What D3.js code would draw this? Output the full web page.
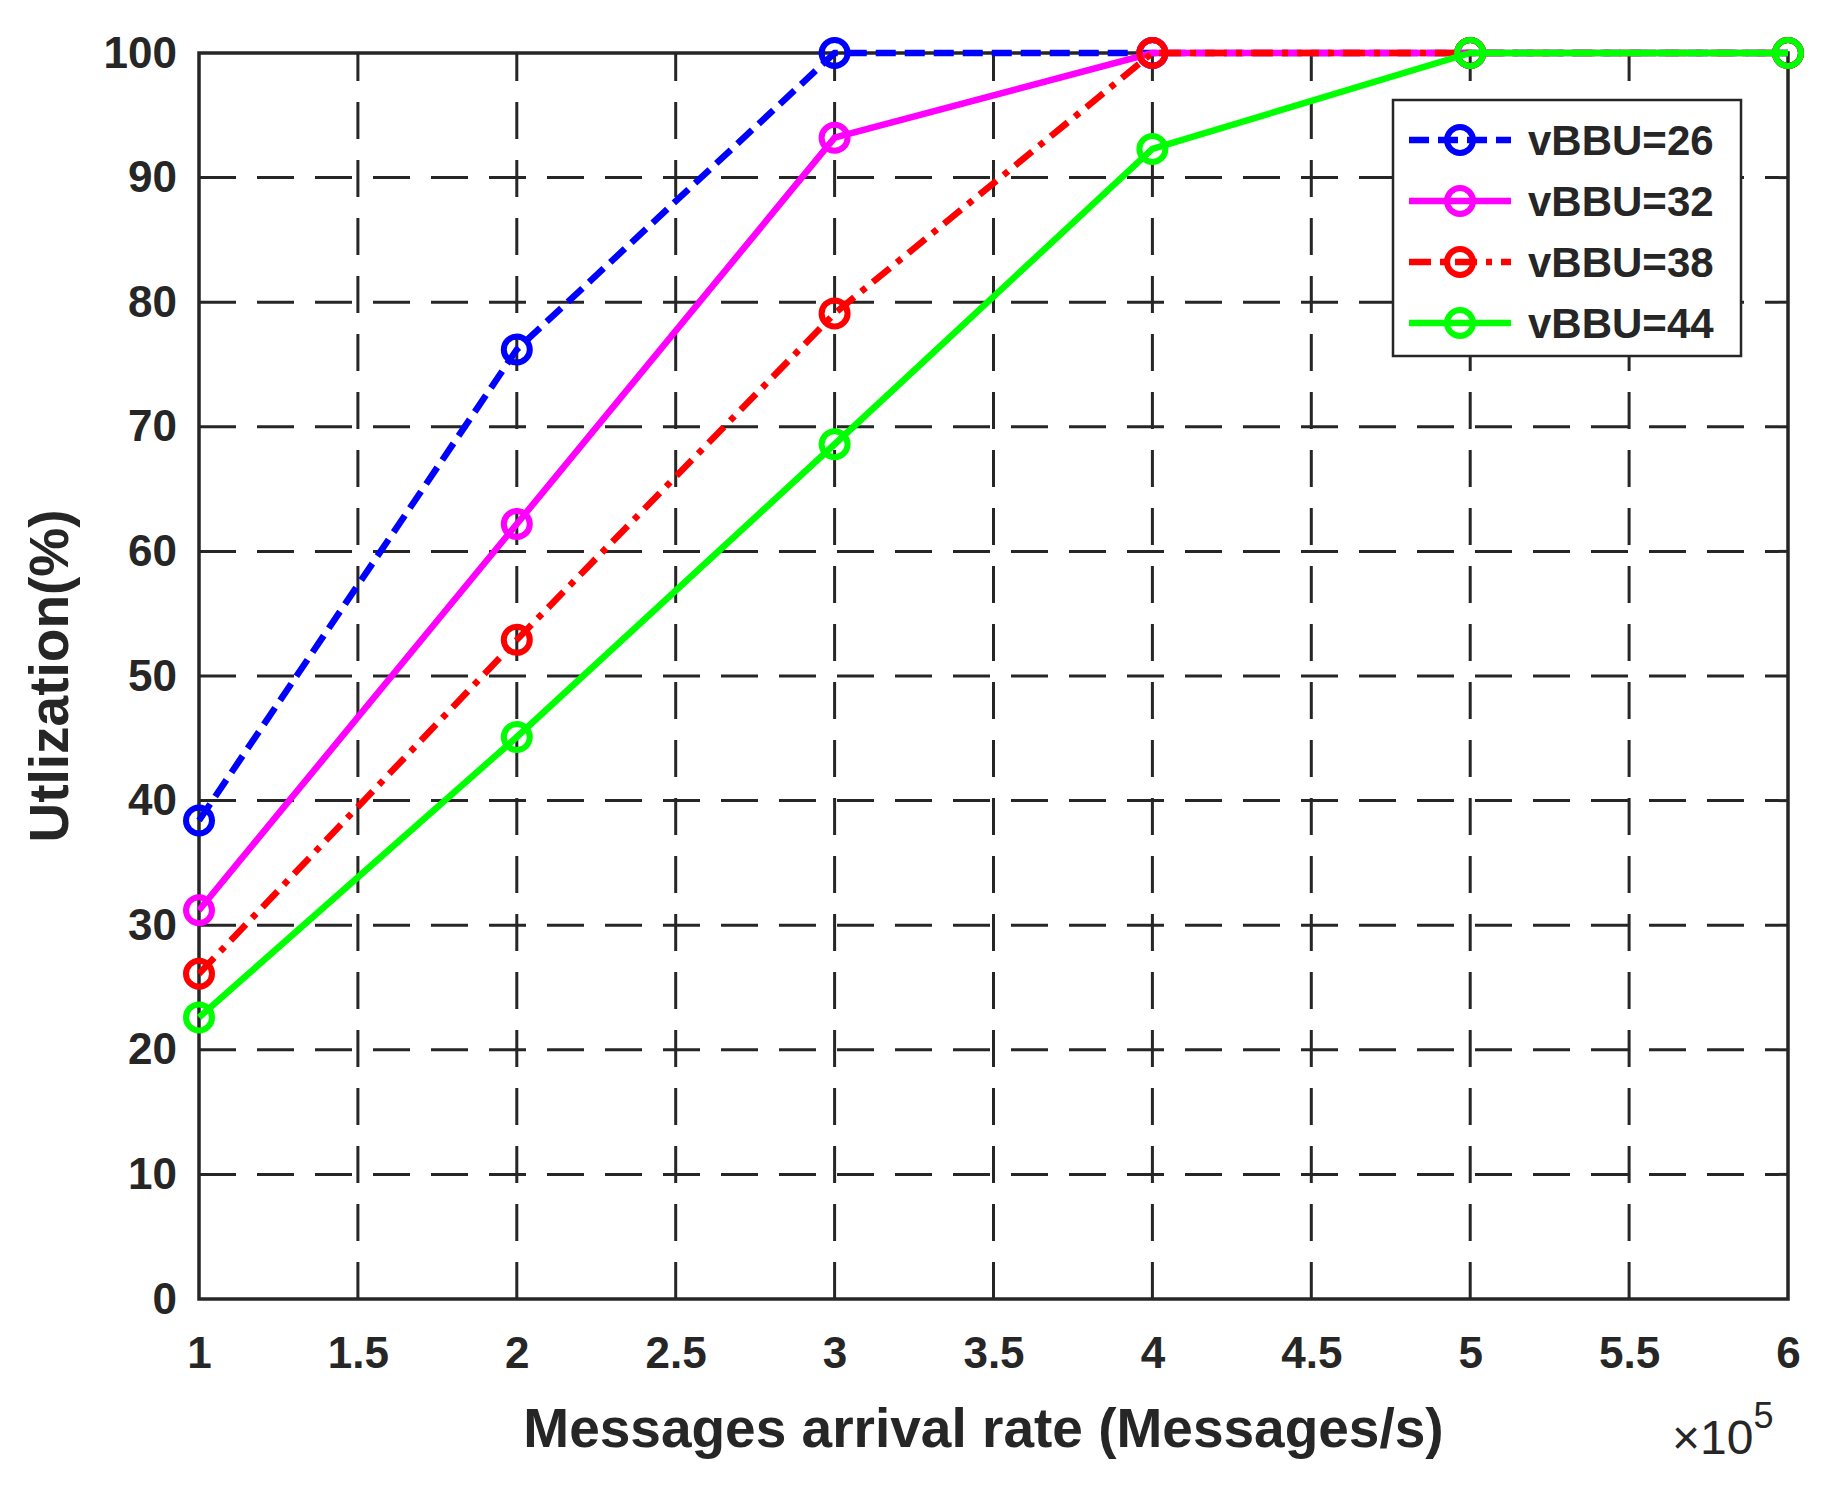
<!DOCTYPE html>
<html><head><meta charset="utf-8">
<script src="https://cdn.jsdelivr.net/npm/d3@7"></script>
<style>body{margin:0;background:#fff}svg text{font-family:"Liberation Sans",Arial,sans-serif;font-weight:bold;fill:#262626}</style>
</head><body>
<svg id="chart" width="1823" height="1487"></svg>
<script>
const xValues = [1, 2, 3, 4, 5, 6];
const xTicks = [1, 1.5, 2, 2.5, 3, 3.5, 4, 4.5, 5, 5.5, 6];
const yTicks = [0, 10, 20, 30, 40, 50, 60, 70, 80, 90, 100];
const seriesNames = ["vBBU=26", "vBBU=32", "vBBU=38", "vBBU=44"];
const vbbu26 = [38.4, 76.2, 100, 100, 100, 100];
const vbbu32 = [31.2, 62.2, 93.2, 100, 100, 100];
const vbbu38 = [26.1, 52.9, 79.1, 100, 100, 100];
const vbbu44 = [22.6, 45.1, 68.6, 92.3, 100, 100];
const colors = ["#0000ff", "#ff00ff", "#ff0000", "#00ff00"];
const dashes = ["20,9", null, "22,9,6,9", null];
const allSeries = [vbbu26, vbbu32, vbbu38, vbbu44];

const margin = { top: 53, right: 35, bottom: 188, left: 199 };
const width = 1823, height = 1487;
const svg = d3.select("#chart");

const x = d3.scaleLinear().domain([1, 6]).range([margin.left, width - margin.right]);
const y = d3.scaleLinear().domain([0, 100]).range([height - margin.bottom, margin.top]);

// grid
const grid = svg.append("g").attr("stroke", "#262626").attr("stroke-width", 3).attr("stroke-dasharray", "37,21");
grid.selectAll("line.gx").data(xTicks.slice(1, -1)).join("line")
  .attr("x1", d => x(d)).attr("x2", d => x(d)).attr("y1", y(0)).attr("y2", y(100));
grid.selectAll("line.gy").data(yTicks.slice(1, -1)).join("line")
  .attr("y1", d => y(d)).attr("y2", d => y(d)).attr("x1", x(1)).attr("x2", x(6));

svg.append("rect").attr("x", x(1)).attr("y", y(100))
  .attr("width", x(6) - x(1)).attr("height", y(0) - y(100))
  .attr("fill", "none").attr("stroke", "#262626").attr("stroke-width", 3.5);

svg.append("g").attr("transform", `translate(0,${y(0)})`)
  .call(d3.axisBottom(x).tickValues(xTicks).tickSize(0).tickPadding(38).tickFormat(d3.format("")))
  .call(g => g.select(".domain").remove())
  .selectAll("text").attr("font-size", 44).attr("fill", "#262626");

svg.append("g").attr("transform", `translate(${x(1)},0)`)
  .call(d3.axisLeft(y).tickValues(yTicks).tickSize(0).tickPadding(22))
  .call(g => g.select(".domain").remove())
  .selectAll("text").attr("font-size", 44).attr("fill", "#262626");

svg.append("text").attr("x", (x(1) + x(6)) / 2 - 10).attr("y", 1447)
  .attr("text-anchor", "middle").attr("font-size", 55).text("Messages arrival rate (Messages/s)");
const mult = svg.append("text").attr("x", 1672).attr("y", 1454).attr("font-size", 48).style("font-weight", "normal");
mult.append("tspan").text("×10");
mult.append("tspan").attr("dy", -26).attr("font-size", 36).text("5");

svg.append("text").attr("transform", `translate(68,${(y(0) + y(100)) / 2}) rotate(-90)`)
  .attr("text-anchor", "middle").attr("font-size", 55).text("Utlization(%)");

const line = d3.line().x((d, i) => x(xValues[i])).y(d => y(d));
allSeries.forEach((s, k) => {
  const g = svg.append("g");
  g.append("path").attr("d", line(s)).attr("fill", "none")
    .attr("stroke", colors[k]).attr("stroke-width", 6.5).attr("stroke-dasharray", dashes[k]);
  g.selectAll("circle").data(s).join("circle")
    .attr("cx", (d, i) => x(xValues[i])).attr("cy", d => y(d)).attr("r", 13)
    .attr("fill", "none").attr("stroke", colors[k]).attr("stroke-width", 6);
});

// legend
const lg = svg.append("g").attr("transform", "translate(1393,100)");
lg.append("rect").attr("width", 348).attr("height", 256).attr("fill", "#fff")
  .attr("stroke", "#262626").attr("stroke-width", 2.5);
seriesNames.forEach((name, k) => {
  const cy = 40 + k * 61;
  lg.append("line").attr("x1", 16).attr("x2", 118).attr("y1", cy).attr("y2", cy)
    .attr("stroke", colors[k]).attr("stroke-width", 6.5).attr("stroke-dasharray", dashes[k]);
  lg.append("circle").attr("cx", 67).attr("cy", cy).attr("r", 13)
    .attr("fill", "none").attr("stroke", colors[k]).attr("stroke-width", 6);
  lg.append("text").attr("x", 135).attr("y", cy + 15).attr("font-size", 42).text(name);
});
</script>
</body></html>
